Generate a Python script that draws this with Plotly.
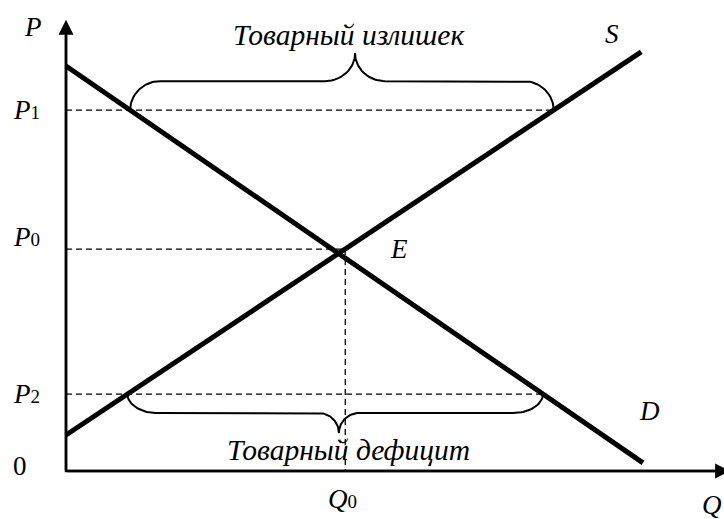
import numpy as np
import plotly.graph_objects as go

W, H = 724, 519

# ---- data (economic units) ----
demand_Q = [0.0, 10.0]
demand_P = [10.0, 0.2]
supply_Q = [0.0, 9.97]
supply_P = [0.89, 10.35]
P1, P0, P2 = 8.91, 5.48, 1.90
Q0 = 4.84
surplus_tip_Q = 5.01
deficit_tip_Q = 4.73
axis_Q_max = 11.51
axis_P_max = 11.14
surplus_text = "Товарный излишек"
deficit_text = "Товарный дефицит"

# axis ranges (figure fills whole page)
xr = [-1.1438, 11.404]
yr = [-1.185, 11.630]
kx = W / (xr[1] - xr[0])
ky = H / (yr[1] - yr[0])

def q_demand(p):
    return float(np.interp(p, demand_P[::-1], demand_Q[::-1]))

def q_supply(p):
    return float(np.interp(p, supply_P, supply_Q))

def bez(p0, p1, p2, p3, n=24):
    t = np.linspace(0, 1, n)[:, None]
    a = np.array(p0); b = np.array(p1); c = np.array(p2); d = np.array(p3)
    return ((1-t)**3)*a + 3*((1-t)**2)*t*b + 3*(1-t)*t*t*c + t**3*d

def brace(qa, qb, qtip, p, h_px, t_px, re_px, rm_px, sign):
    h = sign*h_px/ky; t = sign*t_px/ky; re = re_px/kx; rm = rm_px/kx
    segs = [
        bez((qa, p), (qa, p+0.55*h), (qa+0.45*re, p+h), (qa+re, p+h)),
        bez((qtip-rm, p+h), (qtip-0.45*rm, p+h), (qtip, p+h+0.45*t), (qtip, p+h+t)),
        bez((qtip, p+h+t), (qtip, p+h+0.45*t), (qtip+0.45*rm, p+h), (qtip+rm, p+h)),
        bez((qb-re, p+h), (qb-0.45*re, p+h), (qb, p+0.55*h), (qb, p)),
    ]
    pts = np.vstack(segs)
    return pts[:, 0], pts[:, 1]

fig = go.Figure()
black = "#000000"
dash = "6px,4px"

# dashed guide lines
fig.add_trace(go.Scatter(x=[0, q_supply(P1)], y=[P1, P1], mode="lines",
                         line=dict(color=black, width=1.3, dash=dash)))
fig.add_trace(go.Scatter(x=[0, Q0], y=[P0, P0], mode="lines",
                         line=dict(color=black, width=1.3, dash=dash)))
fig.add_trace(go.Scatter(x=[Q0, Q0], y=[P0, 0], mode="lines",
                         line=dict(color=black, width=1.3, dash=dash)))
fig.add_trace(go.Scatter(x=[0, q_demand(P2)], y=[P2, P2], mode="lines",
                         line=dict(color=black, width=1.3, dash=dash)))

# braces
bx, by = brace(q_demand(P1), q_supply(P1), surplus_tip_Q, P1, 29, 28, 30, 30, 1)
fig.add_trace(go.Scatter(x=bx, y=by, mode="lines", line=dict(color=black, width=2)))
bx, by = brace(q_supply(P2), q_demand(P2), deficit_tip_Q, P2, 19, 20, 30, 20, -1)
fig.add_trace(go.Scatter(x=bx, y=by, mode="lines", line=dict(color=black, width=2)))

# supply & demand
fig.add_trace(go.Scatter(x=demand_Q, y=demand_P, mode="lines", line=dict(color=black, width=5)))
fig.add_trace(go.Scatter(x=supply_Q, y=supply_P, mode="lines", line=dict(color=black, width=5)))

# axes with arrows
fig.add_trace(go.Scatter(x=[0, 0, axis_Q_max - 0.2], y=[axis_P_max - 0.3, 0, 0], mode="lines",
                         line=dict(color=black, width=2.5)))
for (x, y, ax, ay) in [(0, axis_P_max, 0, 0), (axis_Q_max, 0, 0, 0)]:
    fig.add_annotation(x=x, y=y, ax=ax, ay=ay, xref="x", yref="y", axref="x", ayref="y",
                       text="", showarrow=True, arrowhead=2, arrowsize=1.2,
                       arrowwidth=2.5, arrowcolor=black, standoff=0)

ifont = dict(family="Liberation Serif", size=27, color=black, style="italic")
nfont = dict(family="Liberation Serif", size=27, color=black)

def sub(base, s):
    return f"{base}<span style='font-style:normal;font-size:19px'>{s}</span>"

labels = [
    (-0.57, 10.96, "P", 0, 0, ifont),
    (-0.68, P1, sub("P", "1"), 0, 0, ifont),
    (-0.68, P0, sub("P", "0"), 0, 12, ifont),
    (-0.68, P2, sub("P", "2"), 0, 0, ifont),
    (-0.80, 0.0, "0", 0, 5, nfont),
    (Q0, 0.0, sub("Q", "0"), -3, -28, ifont),
    (11.2, -0.96, "Q", 0, 5, ifont),
    (9.46, 10.79, "S", 0, 0, ifont),
    (10.12, 1.48, "D", 0, 0, ifont),
    (5.77, P0, "E", 0, 0, ifont),
]
for x, y, t, xs, ys, f in labels:
    fig.add_annotation(x=x, y=y, xref="x", yref="y", text=t, showarrow=False,
                       font=f, xshift=xs, yshift=ys)

tfont = dict(family="Liberation Serif", size=29.5, color=black, style="italic")
fig.add_annotation(x=4.89, y=10.77, xref="x", yref="y", text=surplus_text,
                   showarrow=False, font=tfont)
fig.add_annotation(x=4.89, y=0.52, xref="x", yref="y", text=deficit_text,
                   showarrow=False, font=tfont)

fig.update_layout(
    width=W, height=H, showlegend=False,
    margin=dict(l=0, r=0, t=0, b=0),
    paper_bgcolor="white", plot_bgcolor="white",
    xaxis=dict(range=xr, visible=False, fixedrange=True),
    yaxis=dict(range=yr, visible=False, fixedrange=True),
)
fig.write_html("out.html", config={"displayModeBar": False},
               post_script="document.body.style.margin='0';document.body.style.overflow='hidden';")
